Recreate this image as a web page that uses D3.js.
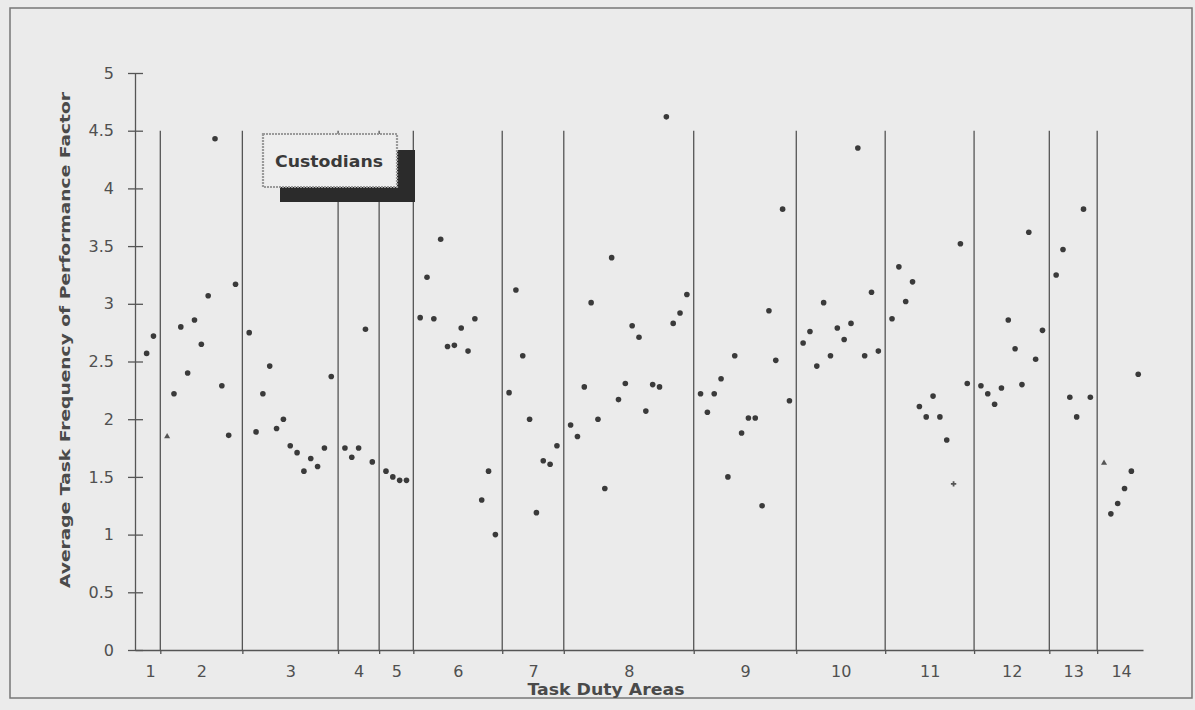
<!DOCTYPE html>
<html><head><meta charset="utf-8">
<script src="https://cdn.jsdelivr.net/npm/d3@7"></script>
<style>
html,body{margin:0;padding:0;background:#ebebeb;}
svg{display:block;}
</style></head><body>
<svg id="c" width="1195" height="710"></svg>
<script>
// ---- data ----
const categories = ["1","2","3","4","5","6","7","8","9","10","11","12","13","14"];
const duty1  = [2.57, 2.72];
const duty2  = [1.85, 2.22, 2.80, 2.40, 2.86, 2.65, 3.07, 4.43, 2.29, 1.86, 3.17];
const duty3  = [2.75, 1.89, 2.22, 2.46, 1.92, 2.00, 1.77, 1.71, 1.55, 1.66, 1.59, 1.75, 2.37];
const duty4  = [1.75, 1.67, 1.75, 2.78, 1.63];
const duty5  = [1.55, 1.50, 1.47, 1.47];
const duty6  = [2.88, 3.23, 2.87, 3.56, 2.63, 2.64, 2.79, 2.59, 2.87, 1.30, 1.55, 1.00];
const duty7  = [2.23, 3.12, 2.55, 2.00, 1.19, 1.64, 1.61, 1.77];
const duty8  = [1.95, 1.85, 2.28, 3.01, 2.00, 1.40, 3.40, 2.17, 2.31, 2.81, 2.71, 2.07, 2.30, 2.28, 4.62, 2.83, 2.92, 3.08];
const duty9  = [2.22, 2.06, 2.22, 2.35, 1.50, 2.55, 1.88, 2.01, 2.01, 1.25, 2.94, 2.51, 3.82, 2.16];
const duty10 = [2.66, 2.76, 2.46, 3.01, 2.55, 2.79, 2.69, 2.83, 4.35, 2.55, 3.10, 2.59];
const duty11 = [2.87, 3.32, 3.02, 3.19, 2.11, 2.02, 2.20, 2.02, 1.82, 1.44, 3.52, 2.31];
const duty12 = [2.29, 2.22, 2.13, 2.27, 2.86, 2.61, 2.30, 3.62, 2.52, 2.77];
const duty13 = [3.25, 3.47, 2.19, 2.02, 3.82, 2.19];
const duty14 = [1.62, 1.18, 1.27, 1.40, 1.55, 2.39];
const dutyValues = [duty1,duty2,duty3,duty4,duty5,duty6,duty7,duty8,duty9,duty10,duty11,duty12,duty13,duty14];
const yTicks = [0,0.5,1,1.5,2,2.5,3,3.5,4,4.5,5];
const yTickLabels = ["0","0.5","1","1.5","2","2.5","3","3.5","4","4.5","5"];
const dividerTop = 4.5;
const boxLabel = "Custodians";
const yTitle = "Average Task Frequency of Performance Factor";
const xTitle = "Task Duty Areas";

// ---- build sequential task index (one blank slot per divider) ----
let idx = 1;
const points = [], dividers = [], centers = [];
dutyValues.forEach((arr, a) => {
  const start = idx;
  arr.forEach((v, j) => { points.push({area: a, j: j, i: idx, v: v}); idx++; });
  centers.push((start + idx - 1) / 2);
  if (a < dutyValues.length - 1) { dividers.push(idx); idx++; }
});
const lastIdx = idx - 1;

const svg = d3.select("#c");
const ink = "#4a4a4a";
const x = d3.scaleLinear().domain([-0.7, lastIdx + 0.7]).range([135, 1143]);
const y = d3.scaleLinear().domain([0, 5]).range([650, 73]);

// frame
svg.append("rect").attr("x",10).attr("y",8).attr("width",1182).attr("height",690)
  .attr("fill","none").attr("stroke","#777").attr("stroke-width",1.5);

// dividers
svg.append("g").selectAll("line").data(dividers).join("line")
  .attr("x1", d => x(d)).attr("x2", d => x(d))
  .attr("y1", y(dividerTop)).attr("y2", y(0))
  .attr("stroke", "#555").attr("stroke-width", 1.3);

// x axis (divider ticks)
const gx = svg.append("g").attr("transform", `translate(0,${y(0)})`)
  .call(d3.axisBottom(x).tickValues(dividers).tickSize(4).tickSizeOuter(0).tickFormat(""));
gx.select(".domain").attr("stroke", "#555").attr("stroke-width", 1.3);
gx.selectAll(".tick line").attr("stroke", "#555").attr("stroke-width", 1.3);

// category labels
const gc = svg.append("g").attr("transform", `translate(0,${y(0)})`)
  .call(d3.axisBottom(x).tickValues(centers).tickSize(0).tickPadding(16)
        .tickFormat((d, i) => categories[i]));
gc.select(".domain").remove();
gc.selectAll("text").attr("font-family", "DejaVu Sans, sans-serif").attr("font-size", 16)
  .attr("fill", "#505050");

// y axis
const gy = svg.append("g").attr("transform", `translate(${x(-0.7)},0)`)
  .call(d3.axisLeft(y).tickValues(yTicks).tickSize(7).tickSizeOuter(0).tickPadding(14)
        .tickFormat((d, i) => yTickLabels[i]));
gy.select(".domain").attr("stroke", "#555").attr("stroke-width", 1.3);
gy.selectAll(".tick line").attr("x1", 8).attr("x2", -7).attr("stroke", "#555").attr("stroke-width", 1.3);
gy.selectAll("text").attr("font-family", "DejaVu Sans, sans-serif").attr("font-size", 16)
  .attr("fill", "#505050");

// points
const specialShapes = {"1-0": d3.symbolTriangle, "13-0": d3.symbolTriangle, "10-9": d3.symbolCross};
const gp = svg.append("g");
points.forEach(p => {
  const shape = specialShapes[p.area + "-" + p.j];
  if (shape) {
    gp.append("path").attr("d", d3.symbol().type(shape).size(16)())
      .attr("transform", `translate(${x(p.i)},${y(p.v)})`)
      .attr("fill", "#555");
  } else {
    gp.append("circle").attr("cx", x(p.i)).attr("cy", y(p.v)).attr("r", 2.8)
      .attr("fill", "#3a3a3a");
  }
});

// label box with shadow
svg.append("rect").attr("x", 280).attr("y", 150).attr("width", 135).attr("height", 52)
  .attr("fill", "#2b2b2b");
svg.append("rect").attr("x", 263).attr("y", 134).attr("width", 134).attr("height", 53)
  .attr("fill", "#eeeeee").attr("stroke", "#9a9a9a").attr("stroke-width", 2.2)
  .attr("stroke-dasharray", "2,1");
svg.append("text").attr("x", 275).attr("y", 167).text(boxLabel)
  .attr("font-family", "DejaVu Sans, sans-serif").attr("font-weight", "bold")
  .attr("font-size", 15).attr("fill", "#3a3a3a")
  .attr("textLength", 108).attr("lengthAdjust", "spacingAndGlyphs");

// titles
svg.append("text").attr("transform", "translate(70,340) rotate(-90)")
  .attr("text-anchor", "middle").text(yTitle)
  .attr("font-family", "DejaVu Sans, sans-serif").attr("font-weight", "bold")
  .attr("font-size", 14).attr("fill", ink)
  .attr("textLength", 496).attr("lengthAdjust", "spacingAndGlyphs");
svg.append("text").attr("x", 606).attr("y", 695)
  .attr("text-anchor", "middle").text(xTitle)
  .attr("font-family", "DejaVu Sans, sans-serif").attr("font-weight", "bold")
  .attr("font-size", 15).attr("fill", ink)
  .attr("textLength", 157).attr("lengthAdjust", "spacingAndGlyphs");
</script>
</body></html>
